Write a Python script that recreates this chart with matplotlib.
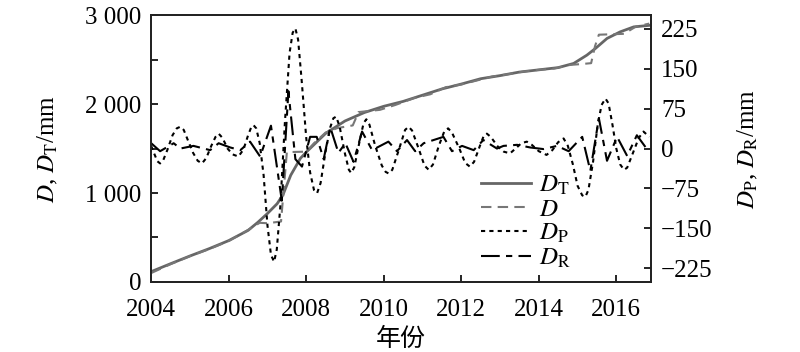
import matplotlib
matplotlib.use("Agg")
import matplotlib.pyplot as plt
from matplotlib.ticker import FuncFormatter, MultipleLocator

plt.rcParams['font.family'] = ['Liberation Serif', 'DejaVu Serif']
plt.rcParams['mathtext.fontset'] = 'stix'

# trend term D_T
t_T = [2004.0, 2004.5, 2005.0, 2005.5, 2006.0, 2006.5, 2006.75, 2007.0, 2007.25,
       2007.4, 2007.6, 2007.85, 2008.0, 2008.5, 2009.0, 2009.5, 2010.0, 2010.5,
       2011.0, 2011.5, 2012.0, 2012.5, 2013.0, 2013.5, 2014.0, 2014.5, 2014.9,
       2015.24, 2015.46, 2015.76, 2016.1, 2016.45, 2016.85]
D_T = [116, 205, 292, 375, 465, 580, 670, 770, 880,
       980, 1200, 1390, 1460, 1670, 1810, 1905, 1975, 2030,
       2100, 2170, 2225, 2285, 2320, 2360, 2385, 2410, 2457,
       2550, 2625, 2738, 2812, 2868, 2885]

# measured D
t_D = [2004.0, 2004.5, 2005.0, 2005.5, 2006.0, 2006.5, 2006.8, 2007.0, 2007.35,
       2007.5, 2008.0, 2008.2, 2008.5, 2008.8, 2009.2, 2009.35, 2009.9, 2010.3,
       2010.8, 2011.2, 2011.6, 2012.0, 2012.4, 2012.8, 2013.2, 2013.6, 2014.0,
       2014.4, 2014.8, 2015.1, 2015.35, 2015.45, 2015.55, 2016.2, 2016.5, 2016.85]
D = [100, 200, 290, 370, 460, 585, 665, 660, 680,
     1460, 1465, 1560, 1680, 1730, 1760, 1910, 1935, 1990,
     2070, 2110, 2190, 2220, 2265, 2310, 2335, 2365, 2385,
     2400, 2440, 2450, 2460, 2650, 2780, 2790, 2870, 2905]

# periodic term D_P
t_P = [2004.00, 2004.08, 2004.16, 2004.23, 2004.31, 2004.42, 2004.55, 2004.66, 2004.75,
       2004.84, 2004.95, 2005.08, 2005.20, 2005.31, 2005.42, 2005.55, 2005.66, 2005.74,
       2005.84, 2005.97, 2006.10, 2006.25, 2006.38, 2006.50, 2006.58, 2006.64, 2006.71,
       2006.80, 2006.90, 2007.00, 2007.09, 2007.17, 2007.24, 2007.33, 2007.45, 2007.57,
       2007.65, 2007.72, 2007.79, 2007.88, 2008.00, 2008.10, 2008.20, 2008.28, 2008.37,
       2008.50, 2008.62, 2008.70, 2008.77, 2008.86, 2009.00, 2009.10, 2009.16, 2009.24,
       2009.38, 2009.48, 2009.55, 2009.63, 2009.78, 2009.95, 2010.05, 2010.13, 2010.22,
       2010.40, 2010.55, 2010.64, 2010.73, 2010.90, 2011.05, 2011.16, 2011.27, 2011.42,
       2011.56, 2011.66, 2011.76, 2011.95, 2012.10, 2012.22, 2012.33, 2012.48, 2012.58,
       2012.66, 2012.76, 2012.95, 2013.10, 2013.26, 2013.40, 2013.55, 2013.69, 2013.82,
       2014.00, 2014.20, 2014.35, 2014.50, 2014.64, 2014.75, 2014.88, 2015.00, 2015.12,
       2015.20, 2015.28, 2015.40, 2015.52, 2015.62, 2015.72, 2015.80, 2015.90, 2016.00,
       2016.10, 2016.20, 2016.28, 2016.42, 2016.58, 2016.70, 2016.85]
D_P = [5, -10, -24, -28, -22, -2, 25, 38, 41,
       35, 15, -8, -23, -28, -18, 5, 22, 28,
       20, 0, -11, -15, -2, 25, 40, 44, 38,
       10, -50, -145, -200, -213, -190, -110, 50, 180,
       218, 226, 205, 130, 20, -45, -78, -84, -65,
       -5, 40, 57, 60, 42, -10, -40, -46, -35,
       15, 48, 55, 45, 5, -32, -44, -47, -40,
       0, 35, 41, 34, 0, -32, -40, -30, 5,
       32, 38, 30, 0, -27, -34, -25, 5, 24,
       28, 22, 3, -6, -9, 0, 10, 13, 7,
       -5, -12, -3, 12, 19, 5, -30, -70, -88,
       -91, -78, -25, 45, 82, 94, 85, 45, 0,
       -30, -40, -36, -10, 20, 32, 22]

# random term D_R
t_R = [2004.0, 2004.23, 2004.58, 2004.75, 2005.09, 2005.52, 2005.74, 2006.04, 2006.3,
       2006.55, 2006.81, 2007.09, 2007.37, 2007.54, 2007.72, 2007.89, 2008.1, 2008.27,
       2008.45, 2008.62, 2008.83, 2009.01, 2009.22, 2009.44, 2009.7, 2010.12, 2010.34,
       2010.6, 2010.81, 2011.03, 2011.54, 2011.76, 2012.02, 2012.32, 2012.57, 2012.92,
       2013.09, 2013.44, 2013.78, 2014.12, 2014.47, 2014.77, 2015.12, 2015.33, 2015.55,
       2015.76, 2016.02, 2016.28, 2016.53, 2016.79]
D_R = [10, -5, 10, 0, 5, -3, 10, 2, -3,
       13, -15, 43, -98, 108, -20, -34, 22, 22,
       -20, 40, -8, 10, -25, 32, -3, 13, -5,
       16, -5, 10, 22, -5, 5, -3, 16, 0,
       5, 7, 2, -1, 5, -5, 22, -42, 57,
       -23, 22, -14, 25, -1]

fig = plt.figure(figsize=(8, 3.52), dpi=100)
ax = fig.add_axes([0.189, 0.199, 0.625, 0.758])
ax2 = ax.twinx()

l1, = ax.plot(t_T, D_T, color='#666666', lw=2.0, label=r'$D_{\rm T}$')
l2, = ax.plot(t_D, D, color='#777777', lw=1.5, dashes=(5, 3), label=r'$D$')
l3, = ax2.plot(t_P, D_P, color='black', lw=1.5, dashes=(2, 2), label=r'$D_{\rm P}$')
l4, = ax2.plot(t_R, D_R, color='black', lw=1.5, dashes=(9, 3, 3, 3), label=r'$D_{\rm R}$')

ax.set_xlim(2004, 2016.9)
ax.set_ylim(0, 3000)
ax2.set_ylim(-251, 251)

ax.set_xticks(range(2004, 2017, 2))
ax.yaxis.set_major_locator(MultipleLocator(500))
ax.yaxis.set_major_formatter(FuncFormatter(
    lambda v, p: '' if v % 1000 else ('{:,.0f}'.format(v).replace(',', ' '))))
ax2.set_yticks([-225, -150, -75, 0, 75, 150, 225])

for a in (ax, ax2):
    a.tick_params(direction='in', length=5, width=1.2, labelsize=18, pad=7)
    for s in a.spines.values():
        s.set_linewidth(1.3)
        s.set_color('#222222')
ax.tick_params(axis='x', pad=12)

ax.set_ylabel(r'$D$, $D_{\rm T}$/mm', fontsize=18, labelpad=18)
ax2.set_ylabel(r'$D_{\rm P}$, $D_{\rm R}$/mm', fontsize=18, labelpad=17)
ax.set_xlabel('年份', fontsize=18, family=['Noto Sans CJK SC', 'DejaVu Sans'], labelpad=4)

ax2.legend(handles=[l1, l2, l3, l4], loc='lower left', bbox_to_anchor=(0.64, 0.008),
           frameon=False, fontsize=18, handlelength=2.0, handletextpad=0.3,
           labelspacing=0.05, borderaxespad=0)

fig.savefig('out.png', dpi=100)
